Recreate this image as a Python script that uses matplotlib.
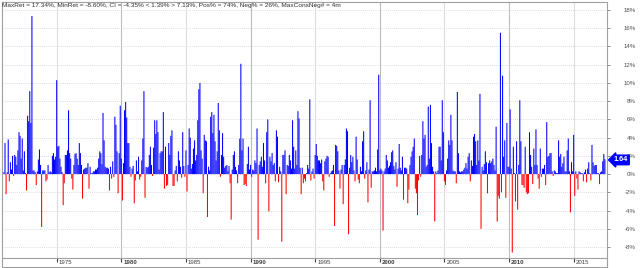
import matplotlib
matplotlib.use("Agg")
import matplotlib.pyplot as plt
import matplotlib.transforms as mtransforms
from matplotlib.lines import Line2D
import numpy as np

# ---------------- data (monthly returns, %) ----------------
first_month = -49          # index of first bar relative to Jan 1975 (Dec 1970)
returns = [
    0.2,                                                                 # 1970-12
    3.4, -2.2, 0.2, 3.8, -0.8, 1.3, 0.5, 2.0, -0.2, 2.1, 1.9, 1.0,       # 1971
    2.6, 4.6, 4.2, 1.7, 3.9, 0.4, 2.5, 0.1, -1.8, 6.4, 5.8, 9.1,         # 1972
    5.6, 17.34, 0.4, 0.4, 0.2, -1.2, 0.3, 1.6, 2.7, 1.0, -5.8, 0.4,      # 1973
    0.4, 0.4, -0.8, -0.6, 1.0, 0.2, 0.3, 0.2, 2.0, 2.3, 1.6, 1.9,        # 1974
    10.3, 3.0, 3.1, 1.7, 0.8, 0.2, -3.4, -1.0, 2.1, 2.1, 2.6, 7.0,       # 1975
    2.3, 1.7, -0.5, -1.7, 1.0, 2.2, 2.3, 1.7, 1.0, 3.4, 2.3, 1.0,        # 1976
    -2.7, 0.5, 0.6, 0.7, 0.7, 1.2, -1.6, 0.8, 0.1, 0.1, 0.3, 0.3,        # 1977
    0.5, 0.5, 0.7, 1.7, 2.5, 2.3, 1.1, 6.7, 3.7, 0.8, 0.7, 0.7,          # 1978
    0.6, -1.8, 0.8, -0.5, 1.4, -0.3, 6.3, 5.4, 2.5, -2.1, 2.3, 7.5,      # 1979
    1.7, -2.9, 1.2, 7.0, 7.9, 6.2, 3.4, 3.4, 0.8, -0.3, 0.6, 0.9,        # 1980
    -3.2, -0.7, 1.5, 0.3, 1.9, -0.6, -0.3, 1.5, 3.9, 9.1, -2.6, 0.8,     # 1981
    0.7, 0.8, 2.1, 3.0, 1.0, -0.2, 2.9, 5.9, 4.4, 5.9, 4.6, 0.5,         # 1982
    2.3, 2.5, 2.5, 6.8, -1.6, 3.0, -1.3, -1.2, 3.4, 2.1, 4.2, 4.8,       # 1983
    -1.3, -1.3, 0.4, 0.9, -0.8, 2.5, 1.5, 0.8, -0.4, 4.6, 0.9, -0.3,     # 1984
    2.6, -1.9, 1.0, 5.0, 4.0, 0.6, 1.1, 2.8, 3.7, 1.5, 2.1, 5.9,         # 1985
    9.3, 10.0, 2.6, 1.7, -2.1, 4.3, 3.7, 3.6, -4.7, 0.8, 0.4, 6.3,       # 1986
    6.8, 4.5, 6.5, 3.6, 1.5, 2.5, 7.8, 4.8, -0.3, 2.1, 4.5, 1.9,         # 1987
    0.7, 0.9, 1.0, 0.3, 0.9, -1.0, -5.0, 0.5, 2.1, 2.5, 0.8, 0.4,        # 1988
    -1.0, 1.0, 3.9, 12.1, 2.6, 3.9, -1.2, -1.1, -1.3, 1.1, 3.0, 0.5,     # 1989
    1.0, -0.3, 0.5, 0.4, 1.5, 1.2, 5.0, -7.2, 1.0, 1.4, 1.9, 0.8,        # 1990
    3.4, 1.5, -1.0, 4.6, 6.0, -4.1, 1.9, 1.4, 2.3, 1.0, 1.2, -0.8,       # 1991
    4.8, 4.1, -0.9, 0.8, 0.3, -7.4, 2.1, 2.1, 2.6, -2.2, 1.0, 0.9,       # 1992
    2.1, 1.5, 0.6, 5.9, 3.0, 0.6, 2.6, 1.0, 6.9, 6.1, 0.7, -2.2,         # 1993
    0.7, -1.0, -0.5, -0.8, 0.1, 1.0, 0.6, 8.2, -0.7, 0.3, 0.6, -0.5,     # 1994
    2.1, 3.3, 2.0, 1.5, 1.5, 1.2, 1.6, -0.8, -1.8, 1.4, 1.7, 2.0,        # 1995
    1.9, -0.3, 0.1, 0.3, 0.4, 1.0, -5.7, 3.2, 3.1, 2.5, 0.4, -1.6,       # 1996
    0.5, 1.0, -3.3, 1.0, 1.6, 5.0, 4.7, -6.6, 0.7, 2.1, 1.3, 1.9,        # 1997
    0.4, -0.8, 4.1, 1.6, -0.6, -1.0, 0.8, 0.3, 3.6, 4.7, -0.5, 0.4,      # 1998
    1.3, -3.1, 0.5, 8.1, -1.5, 0.3, 0.3, 0.4, 0.7, 0.3, 2.7, 10.9,       # 1999
    0.4, 0.6, 0.4, -6.2, 0.3, 0.6, 2.1, 1.5, 0.7, 0.9, 1.3, 2.4,         # 2000
    2.6, 0.9, 0.5, 1.3, -1.4, 0.6, 3.3, 0.7, 0.4, 1.9, -2.8, 0.7,        # 2001
    0.7, 0.6, -3.2, -1.7, 1.0, 1.9, 2.5, 3.0, 3.9, -1.6, -2.1, -4.5,     # 2002
    -0.7, 2.0, -0.3, 2.1, 5.8, 3.9, 4.3, 0.8, 1.0, 7.4, 1.7, 7.6,        # 2003
    3.4, 0.8, 0.3, -5.2, 0.3, 0.1, 0.4, 3.0, 3.0, 1.5, 8.1, 4.6,         # 2004
    -0.8, -1.2, 0.4, 1.7, 3.7, 3.2, 6.5, 3.7, 0.4, 0.3, 0.3, -1.0,       # 2005
    9.0, 2.3, 0.3, 0.2, 0.3, 0.3, 0.5, 0.7, 1.2, 0.6, 1.9, 2.3,          # 2006
    -0.8, 1.5, 0.9, 4.1, 4.4, 3.6, 1.0, 3.7, 1.5, 8.8, -6.0, 0.8,        # 2007
    0.4, 1.1, 2.5, 1.3, -2.1, 1.2, 1.5, 1.2, 1.4, 1.7, 1.0, 0.4,         # 2008
    5.2, -5.2, -2.4, -2.7, 15.5, -2.0, 10.8, 1.9, 3.7, -2.6, 5.6, 0.8,   # 2009
    0.8, 7.1, 0.6, -8.6, 3.0, 0.1, -3.0, 3.6, -3.9, 1.0, 8.1, 3.6,       # 2010
    -1.2, -1.2, -1.5, 3.0, -2.0, -2.2, -2.1, 4.6, 2.1, 0.8, -1.1, 2.8,   # 2011
    1.0, 4.9, 1.0, -0.5, -1.6, 2.8, -0.3, 0.6, 0.6, 1.0, -1.2, 5.7,      # 2012
    1.9, 2.0, 2.3, 2.3, 0.3, -0.2, 0.4, 0.3, 0.1, 0.1, 3.7, 1.9,         # 2013
    2.2, 0.8, 1.2, 1.9, 0.3, 0.3, 2.6, 3.9, 0.3, -4.2, 1.3, 0.3,         # 2014
    4.3, -2.4, 0.3, -0.5, -1.7, 0.3, 0.2, 0.1, 0.1, -0.8, 0.2, 0.5,      # 2015
    -0.9, 0.6, 1.3, 0.1, -0.7, 3.2, 1.3, 0.9, 1.0, 1.0, 0.1, 0.1,        # 2016
    -1.1, 0.2, 0.3, 1.4, 2.2, 1.64,                                      # 2017
]
year_labels = [1975, 1980, 1985, 1990, 1995, 2000, 2005, 2010, 2015]
y_ticks = [-8, -6, -4, -2, 0, 2, 4, 6, 8, 10, 12, 14, 16, 18]
stats_text = ("MaxRet = 17.34%, MinRet = -8.60%, CI = -4.35% < 1.39% > 7.13%, "
              "Pos% = 74%, Neg% = 26%, MaxConsNeg# = 4m")
last_label = "1.64"

# ---------------- figure ----------------
W, H = 640, 268
fig = plt.figure(figsize=(W / 100, H / 100), dpi=100)
fig.patch.set_facecolor("white")
plt.rcParams["font.family"] = ["Liberation Sans", "DejaVu Sans"]

L, R, T, B = 1.7, 606.7, 1.7, 257.5      # plot box in pixels
x0_px, px_per_month = 56.7, 1.077         # pixel of Jan 1975, spacing
ax = fig.add_axes([L / W, (H - B) / H, (R - L) / W, (B - T) / H])

idx = np.arange(len(returns)) + first_month
vals = np.array(returns, dtype=float)
colors = np.where(vals >= 0, "#0000ff", "#ff0000")
ax.bar(idx, vals, width=0.97, color=colors, linewidth=0, snap=False,
       antialiased=True, zorder=3)

ax.set_xlim((L - x0_px) / px_per_month, (R - x0_px) / px_per_month)
ax.set_ylim(-9.15, 18.91)

# grid
for yv in y_ticks:
    ax.axhline(yv, color="#d2d2d2", lw=0.6, ls=(0, (1, 1.5)), zorder=1)
for yr in year_labels:
    pos = 12 * (yr - 1975)
    ax.axvline(pos, color="#bdbdbd" if yr % 10 == 0 else "#dddddd",
               lw=0.8, zorder=1)

# x ticks (marks) + labels
ax.set_xticks([12 * (yr - 1975) for yr in year_labels])
ax.tick_params(axis="x", length=3, width=0.8, color="#404040",
               labelbottom=False, direction="out")
xlab_tr = mtransforms.blended_transform_factory(ax.transData, ax.transAxes) + \
    mtransforms.ScaledTranslation(2 / 100, -4.6 / 100, fig.dpi_scale_trans)
for yr in year_labels:
    ax.text(12 * (yr - 1975), 0, str(yr), transform=xlab_tr, ha="left",
            va="center", fontsize=4.4, color="#404040",
            fontweight="bold" if yr % 10 == 0 else "normal", clip_on=False)

# y ticks right
ax.yaxis.tick_right()
ax.set_yticks(y_ticks)
ax.set_yticklabels([f"{t}%" for t in y_ticks])
ax.tick_params(axis="y", length=2, width=0.6, color="#808080",
               labelsize=4.4, labelcolor="#505050", pad=19)
for t in ax.get_yticklabels():
    t.set_horizontalalignment("right")

for s in ax.spines.values():
    s.set_color("#a0a0a0")
    s.set_linewidth(0.8)

# stats line
fig.text(2.5 / W, 1 - 5.0 / H, stats_text, fontsize=4.65, color="#303030",
         ha="left", va="center")

# last value marker
lab_tr = mtransforms.blended_transform_factory(ax.transAxes, ax.transData) + \
    mtransforms.ScaledTranslation(7 / 100, -0.8 / 100, fig.dpi_scale_trans)
ax.text(1.0, returns[-1], last_label, transform=lab_tr, ha="left",
        va="center", fontsize=5.2, color="white", fontweight="bold",
        bbox=dict(boxstyle="larrow,pad=0.18", fc="#0000ff", ec="#0000ff"),
        clip_on=False, zorder=10)

# outer frame around the date strip
fr = dict(color="#a0a0a0", lw=0.8, transform=fig.transFigure)
yb = (H - 266.8) / H
fig.add_artist(Line2D([L / W, L / W], [(H - B) / H, yb], **fr))
fig.add_artist(Line2D([L / W, R / W], [yb, yb], **fr))
fig.add_artist(Line2D([R / W, R / W], [(H - B) / H, yb], **fr))

fig.savefig("out.png", dpi=100)
